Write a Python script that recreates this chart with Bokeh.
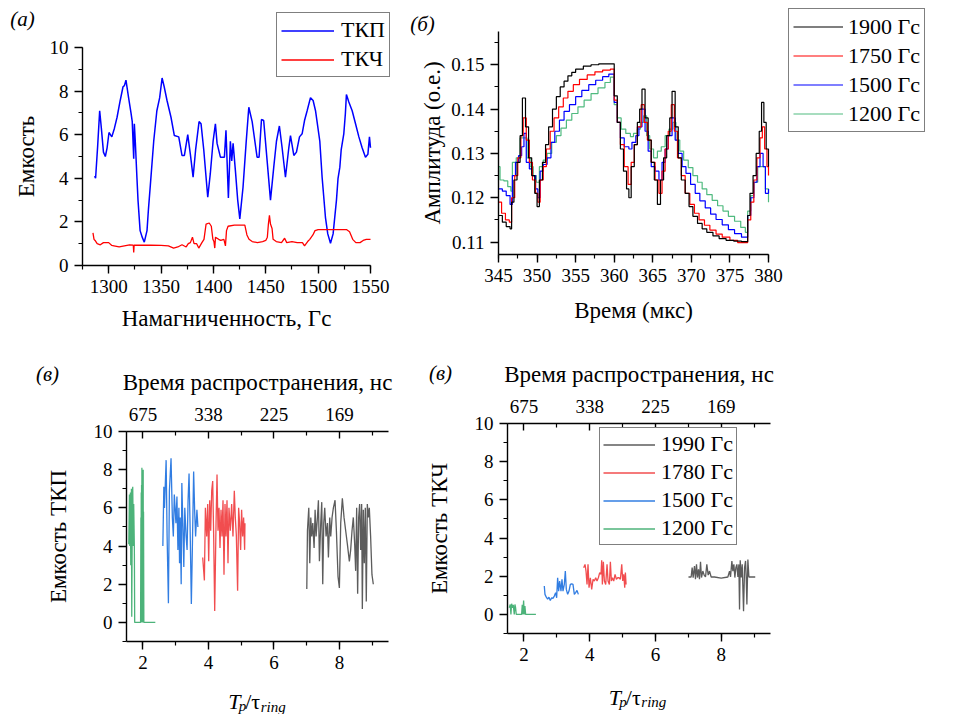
from bokeh.plotting import figure
from bokeh.models import (Range1d, LinearAxis, SingleIntervalTicker, FixedTicker, Legend,
                          LegendItem, Label, PrintfTickFormatter)
from bokeh.layouts import column, row
from bokeh.embed import file_html
from bokeh.resources import INLINE

FONT = "Liberation Serif"

# ---------------- Panel (а) data ----------------
a_tkp_x = [1286.6, 1287.5, 1289.5, 1291.4, 1293, 1295, 1296.8, 1298.5, 1300.3, 1303, 1305.5, 1308, 1311,
           1313.7, 1315, 1316.5, 1319, 1321.3, 1322.5, 1323.9, 1324.5, 1325.5, 1327, 1328, 1330, 1332, 1334,
           1336.6, 1338, 1339.8, 1343, 1346, 1348.7, 1351, 1353, 1355.7, 1359.5, 1362.7, 1366.9, 1370, 1372.3,
           1375.5, 1378, 1380.6, 1383, 1386.3, 1388.2, 1390.8, 1394.6, 1397, 1399.7, 1401.9, 1403.5, 1406.7,
           1410.5, 1412, 1414.3, 1416.2, 1417.5, 1418.8, 1421, 1423.2, 1425.2, 1428.3, 1431.2, 1433.8, 1437,
           1441.7, 1443.6, 1445.9, 1448, 1451.3, 1454.5, 1457.6, 1460.2, 1463, 1465.6, 1468.8, 1472, 1473.6,
           1476.8, 1479.3, 1482.2, 1484.7, 1487, 1489.5, 1492.7, 1495.2, 1497.5, 1501.6, 1503.8, 1507, 1509.2,
           1511.8, 1514.3, 1517.5, 1519, 1520.7, 1522, 1524.5, 1526, 1527, 1529.3, 1532.5, 1535.7, 1538.9,
           1542, 1545.2, 1547.5, 1549, 1550]
a_tkp_y = [4.1, 4.0, 5.5, 7.1, 6.3, 5.2, 5.0, 5.4, 6.1, 5.9, 6.3, 6.8, 7.57,
           8.2, 8.25, 8.5, 7.7, 7.0, 6.6, 4.9, 6.5, 5.6, 4.0, 3.0, 1.6, 1.3, 1.07,
           1.6, 2.6, 3.7, 5.7, 7.1, 7.7, 8.6, 8.2, 7.57, 6.8, 5.96, 5.9, 5.05, 5.05,
           6.0, 5.1, 4.05, 5.3, 6.6, 6.5, 5.3, 3.13, 4.2, 5.7, 6.5, 5.6, 4.97,
           4.97, 6.2, 3.1, 5.7, 4.8, 5.6, 4.35, 3.0, 2.14, 3.6, 5.6, 7.26, 6.6,
           4.97, 4.97, 6.7, 6.65, 4.8, 3.0, 4.5, 5.7, 6.4, 5.4, 4.05, 5.4, 5.96,
           5.05, 5.2, 5.9, 6.04, 6.65, 7.1, 7.7, 7.57, 7.1, 5.7, 4.05, 2.2, 1.45,
           1.02, 1.45, 3.0, 4.0, 4.5, 5.3, 6.04, 6.96, 7.84, 7.5, 7.1, 6.5, 5.9,
           5.4, 4.97, 5.1, 5.9, 5.4]
a_tkch_x = [1285, 1286, 1287, 1289, 1292, 1295, 1297, 1300, 1303, 1305, 1310, 1315, 1320, 1323.5, 1323.9,
            1324.3, 1330, 1340, 1350, 1357, 1362, 1366, 1370, 1374, 1376, 1378, 1380, 1381.5, 1384, 1386,
            1389, 1391, 1393, 1396, 1398, 1399.5, 1400.5, 1401.3, 1402, 1405, 1407, 1410, 1411.5, 1412.5,
            1414, 1420, 1425, 1430, 1432, 1434, 1437, 1442, 1447, 1450, 1451.5, 1452.5, 1453.5, 1454.5,
            1456, 1457, 1460, 1465, 1468, 1470, 1475, 1480, 1485, 1487, 1490, 1492, 1495, 1497, 1500,
            1510, 1520, 1527, 1530, 1533, 1536, 1540, 1543, 1546, 1550]
a_tkch_y = [1.5, 1.2, 1.15, 1.0, 0.95, 1.05, 1.05, 1.05, 0.92, 0.9, 0.85, 0.9, 0.95, 0.93, 0.6,
            0.93, 0.93, 0.93, 0.92, 0.9, 0.8, 0.85, 0.95, 0.85, 1.0, 1.05, 1.3, 1.0, 1.0, 0.8,
            1.05, 1.2, 1.9, 1.95, 1.8, 1.2, 1.1, 0.8, 1.3, 1.2, 1.15, 1.2, 0.9, 1.6,
            1.8, 1.85, 1.85, 1.85, 1.4, 1.2, 1.1, 1.05, 1.1, 1.15, 1.3, 1.9, 2.3, 1.9,
            1.7, 1.2, 1.1, 1.05, 1.25, 1.05, 1.1, 1.05, 1.05, 0.9, 1.1, 1.2, 1.4, 1.6, 1.65,
            1.65, 1.65, 1.65, 1.55, 1.2, 1.05, 1.05, 1.15, 1.2, 1.2]
a_labels = ["ТКП", "ТКЧ"]

# ---------------- Panel (б) data ----------------
b_labels = ["1900 Гс", "1750 Гс", "1500 Гс", "1200 Гс"]
b1900_x = [345, 345.5, 346, 346.5, 346.7, 347, 347.4, 347.8, 348.1, 348.5, 348.9, 349.3, 349.7, 350, 350.3,
           350.7, 351.1, 351.5, 352, 352.5, 353, 353.5, 354, 354.5, 355, 356, 357, 358, 360, 360.4, 360.8,
           361.2, 361.6, 361.9, 362.2, 362.6, 363, 363.3, 363.6, 364, 364.4, 364.8, 365.2, 365.6, 366, 366.4,
           366.8, 367.2, 367.5, 367.9, 368.3, 368.7, 369.2, 369.7, 370.2, 370.8, 371.4, 372, 372.8, 373.6,
           374.5, 375.5, 376.5, 377.3, 377.6, 378, 378.4, 378.8, 379.1, 379.4, 379.7, 380]
b1900_y = [0.116, 0.1145, 0.1135, 0.113, 0.119, 0.124, 0.128, 0.134, 0.1425, 0.136, 0.129, 0.125, 0.121, 0.118, 0.124,
           0.128, 0.132, 0.136, 0.140, 0.1428, 0.145, 0.1463, 0.1475, 0.1483, 0.149, 0.1497, 0.150, 0.1502, 0.143, 0.137, 0.131,
           0.126, 0.122, 0.120, 0.127, 0.132, 0.137, 0.140, 0.1445, 0.138, 0.133, 0.128, 0.124, 0.1185, 0.124, 0.129,
           0.134, 0.138, 0.144, 0.136, 0.129, 0.124, 0.121, 0.118, 0.1158, 0.1142, 0.113, 0.1122, 0.1114, 0.1108,
           0.1104, 0.1102, 0.1101, 0.116, 0.121, 0.125, 0.130, 0.135, 0.1415, 0.137, 0.131, 0.127]
b1750_x = [345, 345.4, 345.9, 346.4, 346.7, 347.1, 347.5, 347.9, 348.2, 348.6, 349, 349.4, 349.8, 350.1, 350.4,
           350.8, 351.2, 351.7, 352.2, 352.8, 353.4, 354, 354.7, 355.5, 356.5, 357.5, 358.5, 359.5, 360, 360.4,
           360.8, 361.3, 361.8, 362.2, 362.6, 363, 363.5, 363.9, 364.3, 364.8, 365.3, 365.8, 366.2, 366.6, 367,
           367.4, 367.8, 368.2, 368.7, 369.2, 369.8, 370.4, 371, 371.7, 372.4, 373.2, 374, 375, 376, 377.3,
           377.7, 378.1, 378.5, 378.9, 379.2, 379.5, 379.8, 380]
b1750_y = [0.119, 0.1165, 0.115, 0.1145, 0.120, 0.125, 0.129, 0.134, 0.138, 0.133, 0.128, 0.124, 0.121, 0.119, 0.124,
           0.127, 0.131, 0.135, 0.138, 0.1405, 0.1425, 0.144, 0.1455, 0.1467, 0.1477, 0.1484, 0.1488, 0.149, 0.142, 0.137,
           0.132, 0.127, 0.123, 0.128, 0.132, 0.136, 0.141, 0.137, 0.133, 0.128, 0.124, 0.121, 0.126, 0.131, 0.135,
           0.141, 0.135, 0.129, 0.125, 0.121, 0.1185, 0.1165, 0.115, 0.1138, 0.1127, 0.1118, 0.1111, 0.1104, 0.1099, 0.115,
           0.119, 0.124, 0.129, 0.1335, 0.136, 0.131, 0.127, 0.125]
b1500_x = [345, 345.5, 346, 346.5, 346.8, 347.2, 347.6, 348, 348.3, 348.6, 349, 349.4, 349.8, 350.1, 350.4,
           350.8, 351.3, 351.8, 352.3, 352.9, 353.5, 354.2, 355, 355.8, 356.7, 357.6, 358.5, 359.3, 360, 360.4,
           360.8, 361.3, 361.9, 362.3, 362.8, 363.2, 363.6, 364, 364.4, 364.8, 365.3, 365.8, 366.2, 366.6, 367,
           367.5, 367.9, 368.3, 368.8, 369.3, 369.9, 370.5, 371.1, 371.8, 372.5, 373.2, 374, 374.8, 375.6, 376.5,
           377.3, 377.7, 378.1, 378.5, 378.9, 379.3, 379.6, 380]
b1500_y = [0.122, 0.1215, 0.1205, 0.1185, 0.125, 0.128, 0.1295, 0.1315, 0.1345, 0.128, 0.1265, 0.125, 0.122, 0.120, 0.126,
           0.1275, 0.129, 0.1325, 0.135, 0.1375, 0.1395, 0.141, 0.1428, 0.1442, 0.1455, 0.1465, 0.1473, 0.1479, 0.1415, 0.137,
           0.1335, 0.1315, 0.131, 0.1325, 0.134, 0.136, 0.140, 0.135, 0.1305, 0.127, 0.126, 0.124, 0.128, 0.131, 0.134,
           0.138, 0.133, 0.130, 0.127, 0.1255, 0.123, 0.121, 0.1193, 0.1177, 0.1163, 0.1151, 0.1139, 0.1128, 0.1119, 0.1111,
           0.116, 0.120, 0.1235, 0.127, 0.130, 0.127, 0.121, 0.122]
b1200_x = [345, 345.2, 345.7, 346.2, 346.6, 346.8, 347.3, 347.8, 348.3, 348.7, 349.1, 349.5, 349.9, 350.3, 350.8,
           351.3, 351.9, 352.5, 353.1, 353.8, 354.5, 355.3, 356.1, 357, 357.9, 358.8, 359.5, 360, 360.4, 360.9,
           361.5, 362.1, 362.5, 363, 363.4, 363.8, 364.2, 364.6, 365.1, 365.6, 366.1, 366.6, 367.1, 367.6, 368,
           368.5, 369, 369.6, 370.2, 370.8, 371.4, 372, 372.7, 373.4, 374.1, 374.8, 375.6, 376.4, 377.0, 377.3,
           377.7, 378.1, 378.6, 379.2, 379.6, 380]
b1200_y = [0.127, 0.124, 0.1238, 0.1225, 0.1215, 0.128, 0.129, 0.1335, 0.1335, 0.129, 0.127, 0.125, 0.1235, 0.127, 0.1285,
           0.130, 0.1325, 0.134, 0.1357, 0.1375, 0.139, 0.1405, 0.142, 0.1435, 0.1448, 0.146, 0.1472, 0.141, 0.138, 0.1355,
           0.1345, 0.1338, 0.1345, 0.1355, 0.137, 0.1385, 0.134, 0.131, 0.129, 0.1305, 0.1315, 0.134, 0.1355, 0.137, 0.133,
           0.1305, 0.1285, 0.1268, 0.125, 0.1235, 0.122, 0.1207, 0.1194, 0.1182, 0.117, 0.1158, 0.1147, 0.1133, 0.1122, 0.117,
           0.1205, 0.1235, 0.127, 0.127, 0.122, 0.119]

# ---------------- Panel (в) data ----------------
top_ticks = [2, 4, 6, 8]
top_labels = ["675", "338", "225", "169"]
v_labels_c = ["1990 Гс", "1780 Гс", "1500 Гс", "1200 Гс"]

c1200_x = [1.57, 1.59, 1.60, 1.62, 1.63, 1.65, 1.66, 1.68, 1.69, 1.71, 1.72, 1.74, 1.75, 1.78, 1.85,
           1.93, 1.94, 1.945, 1.95, 1.955, 1.96, 1.965, 1.97, 1.975, 1.98, 1.985, 1.99, 1.995, 2.0, 2.005,
           2.01, 2.015, 2.02, 2.03, 2.04, 2.07, 2.20, 2.38]
c1200_y = [4.1, 6.7, 4.0, 6.8, 3.0, 7.0, 0.3, 6.5, 7.1, 4.0, 6.2, 3.9, 0, 0, 0,
           0, 5.5, 0.2, 6.8, 0, 7.2, 0.5, 8.1, 0, 7.8, 0.3, 6.5, 0, 7.5, 0.2,
           8.0, 0, 5.8, 0, 0, 0, 0, 0]
c1500_x = [2.61, 2.64, 2.66, 2.71, 2.74, 2.78, 2.81, 2.86, 2.90, 2.93, 2.96, 3.01, 3.04, 3.07, 3.10, 3.12,
           3.14, 3.17, 3.19, 3.22, 3.25, 3.28, 3.32, 3.35, 3.38, 3.41, 3.44, 3.48, 3.51, 3.55, 3.58, 3.61,
           3.65, 3.68]
c1500_y = [4.0, 7.1, 6.0, 8.5, 4.5, 1.0, 6.9, 8.6, 5.5, 4.5, 6.7, 5.2, 6.6, 3.8, 6.0, 3.1,
           5.5, 2.0, 7.3, 5.2, 2.9, 6.0, 4.5, 3.8, 6.4, 7.8, 5.2, 0.96, 3.8, 7.9, 5.9, 4.5,
           5.9, 5.0]
c1780_x = [3.827, 3.878, 3.909, 3.949, 3.980, 4.010, 4.041, 4.071, 4.102, 4.132, 4.162, 4.193, 4.234, 4.264,
           4.294, 4.325, 4.355, 4.386, 4.416, 4.447, 4.477, 4.508, 4.538, 4.569, 4.599, 4.629, 4.670, 4.711,
           4.751, 4.792, 4.822, 4.853, 4.893, 4.924, 4.954, 4.985, 5.015, 5.046, 5.076, 5.107, 5.117]
c1780_y = [3.4, 2.2, 6.0, 4.5, 6.2, 3.2, 6.4, 4.8, 6.9, 7.4, 4.5, 0.6, 5.2, 7.75,
           4.8, 6.0, 3.9, 5.9, 4.5, 6.4, 2.5, 6.2, 4.5, 6.4, 3.1, 6.0, 4.8, 6.2,
           4.5, 6.9, 5.5, 4.6, 1.66, 6.0, 5.2, 3.8, 5.9, 4.5, 5.5, 3.8, 5.2]
c1990_x = [7.005, 7.025, 7.066, 7.096, 7.127, 7.157, 7.188, 7.228, 7.259, 7.289, 7.330, 7.360, 7.391, 7.431,
           7.462, 7.492, 7.523, 7.553, 7.594, 7.635, 7.665, 7.706, 7.736, 7.777, 7.817, 7.868, 7.909, 7.959,
           8.000, 8.041, 8.091, 8.142, 8.193, 8.244, 8.305, 8.345, 8.386, 8.426, 8.467, 8.497, 8.528, 8.558,
           8.589, 8.619, 8.650, 8.680, 8.701, 8.731, 8.761, 8.792, 8.822, 8.853, 8.883, 8.914, 8.954, 8.995, 9.036]
c1990_y = [1.75, 4.8, 6.0, 3.1, 5.5, 4.5, 5.2, 3.9, 5.9, 4.5, 5.5, 6.4, 3.2, 5.2,
           6.3, 2.0, 5.2, 6.0, 4.5, 5.2, 3.4, 5.5, 4.5, 5.5, 6.0, 6.4, 4.8, 2.4,
           1.8, 5.2, 6.5, 5.5, 4.8, 4.1, 3.2, 3.8, 4.8, 5.5, 4.1, 2.7, 6.0, 1.5,
           5.5, 6.2, 3.8, 6.2, 0.7, 5.9, 3.1, 6.0, 1.1, 6.2, 5.5, 6.0, 4.5, 2.5, 2.0]

d1200_x = [1.553, 1.584, 1.604, 1.624, 1.655, 1.675, 1.706, 1.726, 1.746, 1.766, 1.807, 1.929, 1.949, 1.970,
           1.990, 2.010, 2.030, 2.051, 2.365]
d1200_y = [0.35, 0.52, 0, 0.56, 0.35, 0.5, 0, 0.52, 0.35, 0, 0, 0, 0.5, 0, 0.73, 0, 0.44, 0, 0]
d1500_x = [2.619, 2.640, 2.680, 2.721, 2.761, 2.802, 2.843, 2.883, 2.924, 2.964, 2.995, 3.025, 3.056, 3.086,
           3.127, 3.157, 3.188, 3.228, 3.259, 3.289, 3.330, 3.371, 3.411, 3.452, 3.492, 3.533, 3.574, 3.614, 3.655]
d1500_y = [1.49, 1.05, 0.9, 0.8, 0.9, 0.73, 0.87, 0.84, 0.96, 1.14, 0.87, 1.92, 1.22, 1.75,
           1.22, 1.84, 1.22, 1.57, 2.27, 1.31, 1.05, 1.22, 1.57, 1.6, 1.57, 1.05, 1.14, 1.26, 1.05]
d1780_x = [3.817, 3.858, 3.888, 3.919, 3.949, 3.980, 4.020, 4.061, 4.102, 4.142, 4.183, 4.223, 4.264, 4.305,
           4.345, 4.365, 4.386, 4.416, 4.447, 4.487, 4.528, 4.558, 4.599, 4.629, 4.660, 4.690, 4.731, 4.772,
           4.812, 4.853, 4.893, 4.934, 4.975, 5.005, 5.036, 5.066, 5.086, 5.107]
d1780_y = [2.45, 2.62, 2.27, 1.57, 2.62, 1.4, 1.92, 1.31, 1.84, 1.75, 1.92, 1.75, 1.92, 2.19,
           2.1, 2.83, 1.57, 2.76, 1.75, 1.57, 2.62, 1.75, 1.57, 2.76, 1.75, 1.92, 1.75, 2.1,
           1.84, 1.92, 1.92, 1.84, 2.62, 1.75, 2.1, 1.4, 2.19, 1.57]
d1990_x = [7.005, 7.086, 7.117, 7.147, 7.188, 7.218, 7.249, 7.279, 7.310, 7.340, 7.371, 7.401, 7.442, 7.482,
           7.523, 7.563, 7.604, 7.645, 7.695, 7.797, 8.000, 8.203, 8.254, 8.284, 8.325, 8.355, 8.386, 8.416,
           8.447, 8.477, 8.508, 8.538, 8.558, 8.579, 8.609, 8.640, 8.680, 8.711, 8.741, 8.761, 8.782, 8.812,
           8.843, 8.873, 9.036]
d1990_y = [1.96, 1.96, 2.45, 1.93, 2.53, 1.84, 2.62, 1.93, 2.36, 1.84, 2.76, 1.93, 2.27, 2.06,
           1.96, 2.62, 2.06, 2.27, 1.96, 1.96, 1.9, 1.96, 2.27, 1.96, 2.8, 2.27, 2.62, 1.93,
           2.45, 2.62, 1.96, 2.62, 0.26, 2.83, 1.93, 2.62, 0.17, 2.45, 2.8, 1.93, 0.52, 2.88,
           1.96, 1.96, 1.96]

V_COLORS = ["#4a4a4a", "#f03a3c", "#1b6fdf", "#3aab6b"]
B_COLORS = ["#000000", "#ff0000", "#0000ff", "#3cb371"]

TICK_FS = "19px"
TITLE_FS = "23px"
ROW2_H = 374


def _lin(v, pa, pb, da, db):
    return da + (v - pa) * (db - da) / (pb - pa)


def make_fig(ox, oy, w, h, xa, ya):
    """Figure whose plotting frame fills the whole canvas.
    xa / ya: (page px of axis start, page px of axis end, data at start, data at end)."""
    xr = (_lin(ox, *xa), _lin(ox + w, *xa))
    yr = (_lin(oy + h, *ya), _lin(oy, *ya))
    p = figure(width=w, height=h, x_range=Range1d(*xr), y_range=Range1d(*yr),
               output_backend="svg", toolbar_location=None, title_location=None,
               min_border=0, min_border_left=0, min_border_right=0, min_border_top=0, min_border_bottom=0)
    p.outline_line_color = None
    p.xgrid.visible = False
    p.ygrid.visible = False
    p.background_fill_color = "white"
    p.border_fill_color = "white"
    return p


def style_axis(ax, ticker, label, label_standoff, fixed, bounds, tick_in=0, tick_out=8, minor_in=0,
               minor_out=4, lab_std=6):
    ax.ticker = ticker
    ax.fixed_location = fixed
    ax.bounds = bounds
    ax.axis_label = label
    ax.axis_label_text_font = FONT
    ax.axis_label_text_font_size = TITLE_FS
    ax.axis_label_text_font_style = "normal"
    ax.axis_label_text_color = "black"
    ax.axis_label_standoff = label_standoff
    ax.major_label_text_font = FONT
    ax.major_label_text_font_size = TICK_FS
    ax.major_label_text_color = "black"
    ax.major_label_standoff = lab_std
    ax.axis_line_color = "black"
    ax.axis_line_width = 1.4
    ax.major_tick_line_color = "black"
    ax.major_tick_line_width = 1.4
    ax.minor_tick_line_color = "black"
    ax.minor_tick_line_width = 1.2
    ax.major_tick_in = tick_in
    ax.major_tick_out = tick_out
    ax.minor_tick_in = minor_in
    ax.minor_tick_out = minor_out


def add_text(p, cx, cy, text, size, style="normal", align="left", baseline="alphabetic"):
    # cx, cy: pixels from the figure canvas' top-left corner
    p.add_layout(Label(x=cx, y=cy, x_units="canvas", y_units="canvas", text=text, text_font=FONT,
                       text_font_size=size, text_font_style=style, text_align=align,
                       text_baseline=baseline, text_color="black"))


def make_legend(items, loc, pad, spacing, h, gw, std, fs="22px"):
    return Legend(items=items, location=loc, padding=pad, spacing=spacing, label_height=h,
                  glyph_height=h, glyph_width=gw, label_standoff=std, margin=0,
                  label_text_font=FONT, label_text_font_size=fs, label_text_color="black",
                  border_line_color="black", border_line_width=1.2, background_fill_alpha=1.0)


# ---------------- Panel (а) : canvas origin (0, 0) ----------------
A_X = (1275, 1550)
A_Y = (0, 10)
pA = make_fig(0, 0, 400, 340, (82, 370, A_X[0], A_X[1]), (265, 47, A_Y[0], A_Y[1]))
style_axis(pA.xaxis[0], SingleIntervalTicker(interval=50, num_minor_ticks=2), "Намагниченность, Гс", 10,
           A_Y[0], A_X)
style_axis(pA.yaxis[0], SingleIntervalTicker(interval=2, num_minor_ticks=2), "Емкость", 8, A_X[0], A_Y)
rA1 = pA.line(a_tkp_x, a_tkp_y, line_color="#0000ff", line_width=1.5)
rA2 = pA.line(a_tkch_x, a_tkch_y, line_color="#ff0000", line_width=1.3)
legA = make_legend([LegendItem(label=a_labels[0], renderers=[rA1]),
                    LegendItem(label=a_labels[1], renderers=[rA2])],
                   (276, 263), 4, 3, 25, 53, 7)
pA.add_layout(legA)
add_text(pA, 22, 18, "(а)", "21px", "italic", "center", "middle")

# ---------------- Panel (б) : canvas origin (400, 0) ----------------
B_X = (345, 380)
B_Y = (0.1072, 0.1575)
pB = make_fig(400, 0, 548, 340, (498, 768, B_X[0], B_X[1]), (254, 31, B_Y[0], B_Y[1]))
style_axis(pB.xaxis[0], SingleIntervalTicker(interval=5, num_minor_ticks=2), "Время (мкс)", 13, B_Y[0], B_X)
style_axis(pB.yaxis[0], SingleIntervalTicker(interval=0.01, num_minor_ticks=2), "Амплитуда (о.е.)", 3,
           B_X[0], B_Y)
pB.yaxis[0].formatter = PrintfTickFormatter(format="%.2f")
rB4 = pB.step(b1200_x, b1200_y, mode="after", line_color=B_COLORS[3], line_width=1.2, line_alpha=0.9)
rB3 = pB.step(b1500_x, b1500_y, mode="after", line_color=B_COLORS[2], line_width=1.2)
rB2 = pB.step(b1750_x, b1750_y, mode="after", line_color=B_COLORS[1], line_width=1.2)
rB1 = pB.step(b1900_x, b1900_y, mode="after", line_color=B_COLORS[0], line_width=1.2)
legB = make_legend([LegendItem(label=b_labels[0], renderers=[rB1]),
                    LegendItem(label=b_labels[1], renderers=[rB2]),
                    LegendItem(label=b_labels[2], renderers=[rB3]),
                    LegendItem(label=b_labels[3], renderers=[rB4])],
                   (388, 208), 4, 2, 27, 50, 5)
pB.add_layout(legB)
add_text(pB, 22, 23, "(б)", "21px", "italic", "center", "middle")

# ---------------- Panels (в) ----------------
V_X = (1.5, 9.5)
V_Y = (-1, 10)


def v_panel(ox, oy, w, xa_px, ya_px, ylabel, series, legend_loc, tag_pos, xlab):
    p = make_fig(ox, oy, w, ROW2_H, (xa_px[0], xa_px[1], V_X[0], V_X[1]),
                 (ya_px[0], ya_px[1], V_Y[0], V_Y[1]))
    style_axis(p.xaxis[0], SingleIntervalTicker(interval=2, num_minor_ticks=2), None, 0, V_Y[0], V_X)
    style_axis(p.yaxis[0], SingleIntervalTicker(interval=2, num_minor_ticks=2), ylabel, 20, V_X[0], V_Y)
    top = LinearAxis()
    style_axis(top, FixedTicker(ticks=top_ticks, minor_ticks=[3, 5, 7, 9]), "Время распространения, нс", 10,
               V_Y[1], V_X, tick_in=7, tick_out=0, minor_in=4, minor_out=0, lab_std=11)
    top.major_label_overrides = {t: l for t, l in zip(top_ticks, top_labels)}
    p.add_layout(top, "above")
    rs = []
    for (xs, ys), col in zip(series, V_COLORS):
        rs.append(p.line(xs, ys, line_color=col, line_width=1.3, line_alpha=0.9))
    if legend_loc is not None:
        leg = make_legend([LegendItem(label=lab, renderers=[r]) for lab, r in zip(v_labels_c, rs)],
                          legend_loc, 3, 2, 25, 52, 6)
        p.add_layout(leg)
    add_text(p, tag_pos[0], tag_pos[1], "(в)", "21px", "italic", "center", "middle")
    tx, ty = xlab
    add_text(p, tx, ty, "T", "22px", "italic")
    add_text(p, tx + 10.5, ty + 4.5, "p", "15px", "italic")
    add_text(p, tx + 17, ty, "/τ", "22px", "normal")
    add_text(p, tx + 32.5, ty + 5, "ring", "15px", "italic")
    return p


# canvas origin (0, 340)
pC = v_panel(0, 340, 420, (126, 388), (641, 431), "Емкость ТКП",
             [(c1990_x, c1990_y), (c1780_x, c1780_y), (c1500_x, c1500_y), (c1200_x, c1200_y)],
             None, (47, 33), (227.7, 361))
# canvas origin (420, 340)
pD = v_panel(420, 340, 528, (507, 770), (633, 423), "Емкость ТКЧ",
             [(d1990_x, d1990_y), (d1780_x, d1780_y), (d1500_x, d1500_y), (d1200_x, d1200_y)],
             (179, ROW2_H - 205), (20, 32), (188.3, 356.7))

layout = column(row(pA, pB), row(pC, pD))
open("out.html", "w").write(file_html(layout, INLINE))
